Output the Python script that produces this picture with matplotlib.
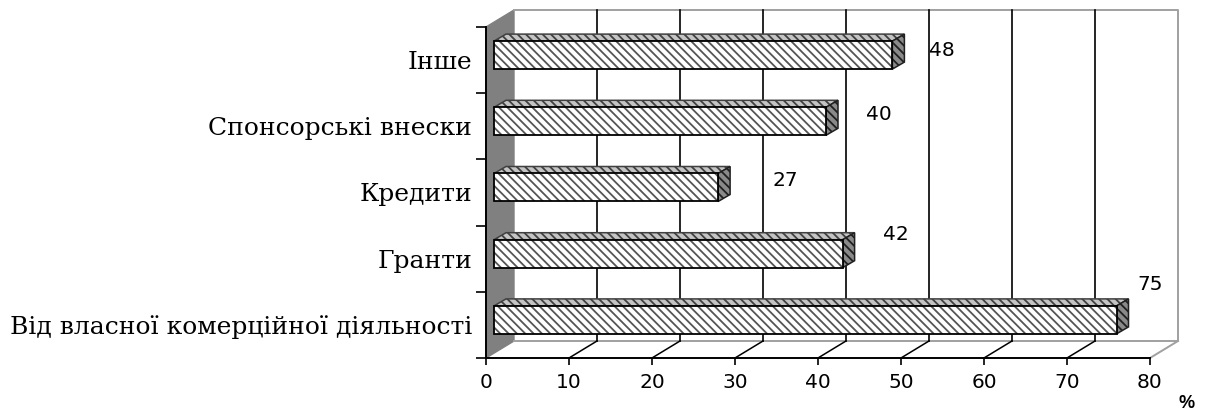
import matplotlib
matplotlib.use('Agg')
import matplotlib.pyplot as plt

# дані з діаграми
categories = ['Від власної комерційної діяльності', 'Гранти', 'Кредити', 'Спонсорські внески', 'Інше']
values = [75, 42, 27, 40, 48]
x_ticks = [0, 10, 20, 30, 40, 50, 60, 70, 80]

W, H = 1210, 412
plt.rcParams['hatch.linewidth'] = 1.3
HATCH = chr(92) * 4

fig = plt.figure(figsize=(W / 100, H / 100), dpi=100)
# передня площина: x 486..1150, y 27..358 (пікселі)
ax = fig.add_axes([486 / W, 1 - 358 / H, 664 / W, 331 / H])
ax.set_xlim(0, 80)
ax.set_ylim(-0.5, 4.5)
ax.patch.set_visible(False)

px_x = 80 / 664
px_y = 5 / 331
# глибина 3D-коробки
depth_x = 28 * px_x
depth_y = 17 * px_y
# зсув бару від передньої площини і глибина самого бару
bar_dx = 8 * px_x
bar_dy = 5 * px_y
side_x = 12 * px_x
side_y = 7 * px_y
bar_h = 28 * px_y

y_low, y_high = -0.5, 4.5

# ліва стінка
ax.fill([0, depth_x, depth_x, 0], [y_low, y_low + depth_y, y_high + depth_y, y_high],
        facecolor='#808080', edgecolor='#808080', lw=1, clip_on=False, zorder=1)

# задня стінка і підлога
ax.plot([depth_x, 80 + depth_x, 80 + depth_x, depth_x],
        [y_high + depth_y, y_high + depth_y, y_low + depth_y, y_low + depth_y],
        color='#a0a0a0', lw=1.4, clip_on=False, zorder=1)
ax.plot([80, 80 + depth_x], [y_low, y_low + depth_y], color='#a0a0a0', lw=1.4, clip_on=False, zorder=1)

# сітка на задній стінці і лінії на підлозі
for t in x_ticks[1:-1]:
    ax.plot([t + depth_x, t + depth_x], [y_low + depth_y, y_high + depth_y], color='black', lw=1.2,
            clip_on=False, zorder=2)
    ax.plot([t, t + depth_x], [y_low, y_low + depth_y], color='black', lw=1.1, clip_on=False, zorder=2)

# бари
for i, v in enumerate(values):
    bottom = i - bar_h / 2 + bar_dy
    top = bottom + bar_h
    left = bar_dx
    right = bar_dx + v
    # верхня грань
    ax.fill([left, left + side_x, right + side_x, right], [top, top + side_y, top + side_y, top],
            facecolor='#c4c4c4', edgecolor='#404040', hatch=HATCH, lw=1.1, clip_on=False, zorder=3)
    # бокова грань
    ax.fill([right, right + side_x, right + side_x, right],
            [bottom, bottom + side_y, top + side_y, top],
            facecolor='#8a8a8a', edgecolor='#202020', hatch=HATCH, lw=1.1, clip_on=False, zorder=3)
    # передня грань: сіра штриховка, окремо чорний контур
    ax.barh(i + bar_dy, v, height=bar_h, left=left, facecolor='white', edgecolor='#555555',
            hatch=HATCH, lw=0, zorder=4)
    ax.barh(i + bar_dy, v, height=bar_h, left=left, fill=False, edgecolor='black', lw=1.3, zorder=4)

# підписи значень (x, y зміщені як в оригіналі)
label_x = [1150, 896, 785, 879, 942]
label_y = [285, 234, 181, 115, 50]
for v, lx, ly in zip(values, label_x, label_y):
    ax.text(lx / W, 1 - ly / H, str(v), transform=fig.transFigure, ha='center', va='center',
            fontsize=14.5, family='DejaVu Sans', zorder=6)

# осі
for s in ['top', 'right']:
    ax.spines[s].set_visible(False)
for s in ['left', 'bottom']:
    ax.spines[s].set_linewidth(1.4)
    ax.spines[s].set_zorder(5)

ax.set_xticks(x_ticks)
ax.tick_params(axis='x', length=5, width=1.2, pad=6, labelsize=14.5)
for lab in ax.get_xticklabels():
    lab.set_family('DejaVu Sans')

ax.set_yticks([i - 0.5 for i in range(6)])
ax.set_yticklabels([])
ax.tick_params(axis='y', which='major', length=7, width=1.2)
ax.set_yticks(range(len(categories)), minor=True)
ax.set_yticklabels(categories, minor=True, family='DejaVu Serif', fontsize=18)
ax.tick_params(axis='y', which='minor', length=0, pad=10)

fig.text(1187 / W, 1 - 403 / H, '%', ha='center', va='center', fontsize=13, fontweight='bold',
         family='Liberation Sans')

fig.savefig('out.png', dpi=100)
plt.close(fig)
